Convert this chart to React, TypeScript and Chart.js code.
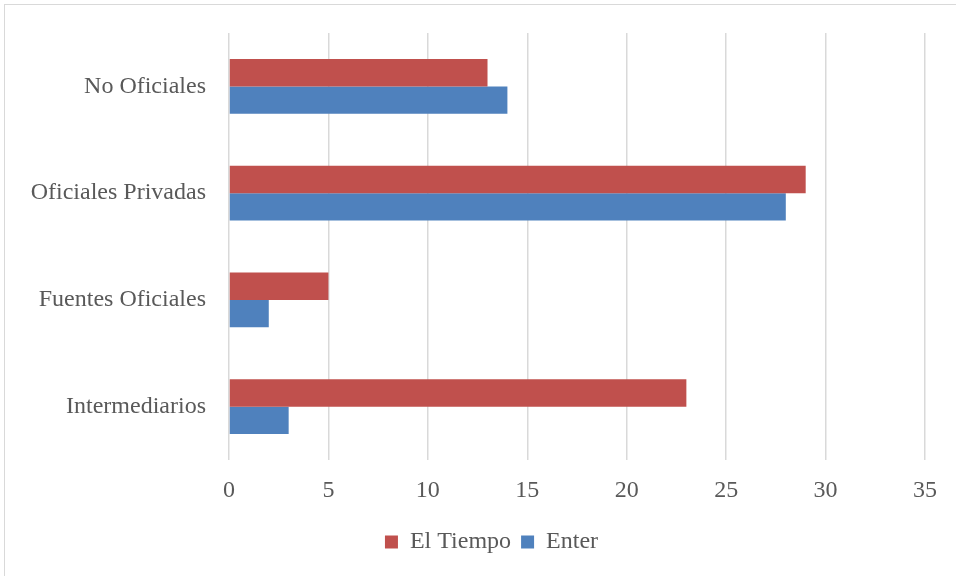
import React, { useEffect, useRef } from "react";
import { Chart, registerables } from "chart.js";

Chart.register(...registerables);

const categories = ["No Oficiales", "Oficiales Privadas", "Fuentes Oficiales", "Intermediarios"];
const elTiempo = [13, 29, 5, 23];
const enter = [14, 28, 2, 3];
const seriesNames = ["El Tiempo", "Enter"];
const seriesColors = ["#C0504D", "#4F81BD"];

const FONT = "'Liberation Serif', 'Times New Roman', serif";

const legendShift = {
  id: "legendShift",
  afterLayout(chart: any) {
    const lg = chart.legend;
    if (!lg) return;
    lg.left += 24;
    lg.right += 24;
  },
};

export default function App() {
  const canvasRef = useRef<HTMLCanvasElement | null>(null);

  useEffect(() => {
    const canvas = canvasRef.current;
    if (!canvas) return;
    const chart = new Chart(canvas, {
      type: "bar",
      data: {
        labels: categories,
        datasets: [
          { label: seriesNames[0], data: elTiempo, backgroundColor: seriesColors[0], borderWidth: 0 },
          { label: seriesNames[1], data: enter, backgroundColor: seriesColors[1], borderWidth: 0 },
        ],
      },
      options: {
        indexAxis: "y",
        animation: false,
        responsive: false,
        maintainAspectRatio: false,
        devicePixelRatio: 1,
        events: [],
        datasets: { bar: { categoryPercentage: 0.515, barPercentage: 1 } },
        layout: { padding: { left: 10, right: 31, top: 33, bottom: 12 } },
        scales: {
          x: {
            min: 0,
            max: 35,
            ticks: { stepSize: 5, color: "#595959", font: { family: FONT, size: 24 }, padding: 16 },
            grid: { color: "#D9D9D9", lineWidth: 1.5, drawTicks: false },
            border: { display: false },
            afterFit: (scale: any) => { scale.height = 60; },
          },
          y: {
            ticks: { color: "#595959", font: { family: FONT, size: 24 }, padding: 23 },
            grid: { display: false, drawTicks: false },
            border: { display: false },
            afterFit: (scale: any) => {
              scale.width = 219;
              scale.paddingTop = 0;
              scale.paddingBottom = 0;
            },
          },
        },
        plugins: {
          legend: {
            position: "bottom",
            labels: {
              boxWidth: 13,
              boxHeight: 13,
              padding: 10,
              color: "#595959",
              font: { family: FONT, size: 24 },
            },
          },
          tooltip: { enabled: false },
        },
      },
      plugins: [legendShift],
    });
    return () => chart.destroy();
  }, []);

  return (
    <div style={{ position: "fixed", left: 0, top: 0, width: 956, height: 576, overflow: "hidden", background: "#fff" }}>
      <div style={{ position: "absolute", left: 4, top: 4, width: 1100, height: 1100, border: "1.5px solid #D9D9D9" }} />
      <canvas ref={canvasRef} width={956} height={576} style={{ position: "absolute", left: 0, top: 0, width: 956, height: 576 }} />
    </div>
  );
}
